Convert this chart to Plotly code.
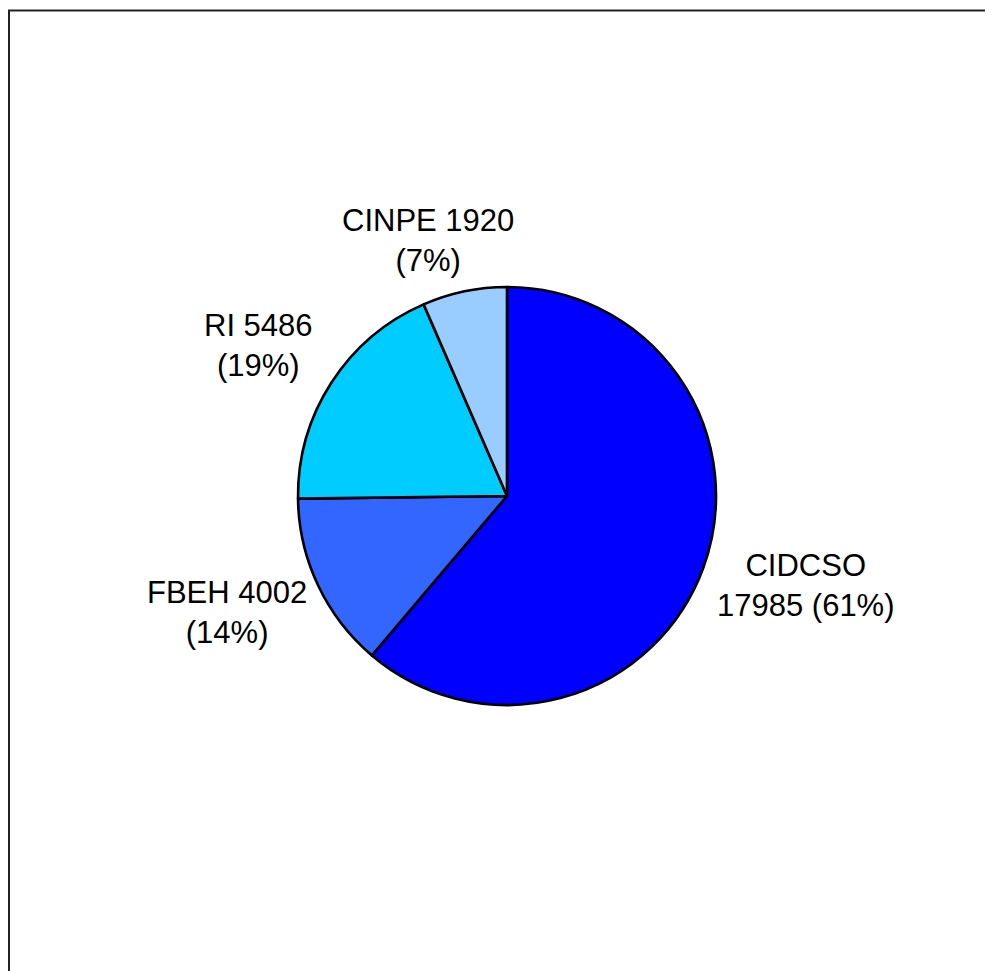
import plotly.graph_objects as go

labels = ["CIDCSO", "FBEH", "RI", "CINPE"]
values = [17985, 4002, 5486, 1920]
percents = ["61%", "14%", "19%", "7%"]
colors = ["#0000FF", "#3366FF", "#00CCFF", "#99CCFF"]
label_texts = [
    "CIDCSO<br>17985 (61%)",
    "FBEH 4002<br>(14%)",
    "RI 5486<br>(19%)",
    "CINPE 1920<br>(7%)",
]

W, H = 993, 971
OFF = 8  # page body margin
# label centres (pixels, figure coords)
label_px = [(806 - OFF, 585 - OFF), (227 - OFF, 612 - OFF),
            (258 - OFF, 345 - OFF), (428 - OFF, 241 - OFF)]
cx, cy, r = 507 - OFF, 496 - OFF, 209

fig = go.Figure(go.Pie(
    labels=labels,
    values=values,
    sort=False,
    direction="clockwise",
    rotation=0,
    marker=dict(colors=colors, line=dict(color="black", width=2.6)),
    textinfo="none",
    hoverinfo="label+value+percent",
    showlegend=False,
    domain=dict(x=[(cx - r) / W, (cx + r) / W], y=[(H - cy - r) / H, (H - cy + r) / H]),
))

for t, (px, py) in zip(label_texts, label_px):
    fig.add_annotation(
        x=px / W, y=1 - py / H, xref="paper", yref="paper", text=t, showarrow=False,
        font=dict(family="Liberation Sans, Arial, sans-serif", size=31, color="black"),
        xanchor="center", yanchor="middle", align="center",
    )

fig.add_shape(type="rect", xref="paper", yref="paper",
              x0=1 / W, x1=1.05, y0=-0.05, y1=1 - 2.5 / H,
              line=dict(color="#222222", width=2), layer="below")

fig.update_layout(
    width=W, height=H,
    margin=dict(l=0, r=0, t=0, b=0),
    paper_bgcolor="white", plot_bgcolor="white",
    font=dict(family="Liberation Sans, Arial, sans-serif"),
)

fig.write_html("out.html")
